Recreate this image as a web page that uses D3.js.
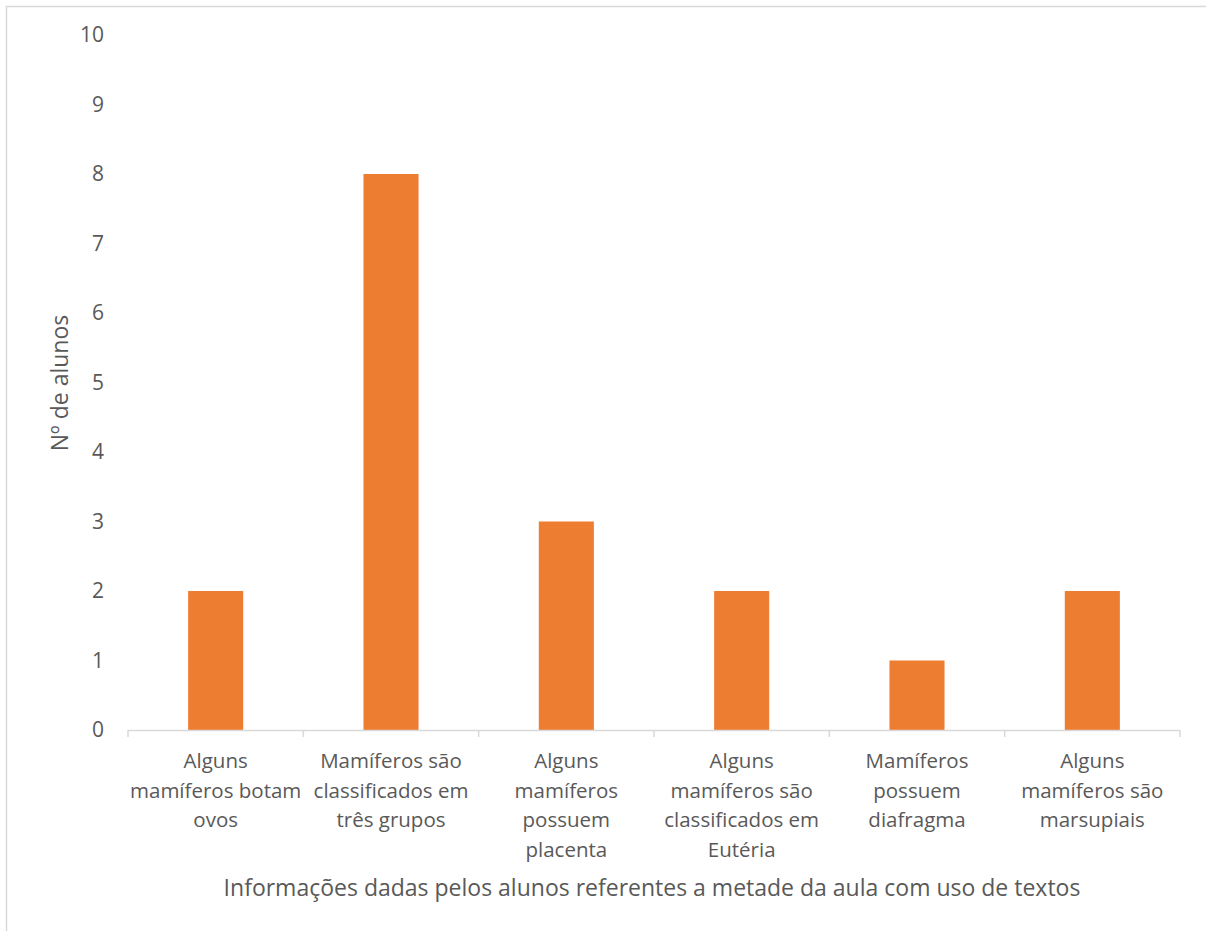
<!DOCTYPE html>
<html>
<head>
<meta charset="utf-8">
<script src="https://cdn.jsdelivr.net/npm/d3@7"></script>
<style>
  html, body { margin: 0; padding: 0; background: #fff; }
  svg { display: block; }
</style>
</head>
<body>
<svg id="chart" width="1206" height="931"></svg>
<script>
const categories = [
  "Alguns mamíferos botam ovos",
  "Mamíferos são classificados em três grupos",
  "Alguns mamíferos possuem placenta",
  "Alguns mamíferos são classificados em Eutéria",
  "Mamíferos possuem diafragma",
  "Alguns mamíferos são marsupiais"
];
const categoryLines = [
  ["Alguns", "mamíferos botam", "ovos"],
  ["Mamíferos são", "classificados em", "três grupos"],
  ["Alguns", "mamíferos", "possuem", "placenta"],
  ["Alguns", "mamíferos são", "classificados em", "Eutéria"],
  ["Mamíferos", "possuem", "diafragma"],
  ["Alguns", "mamíferos são", "marsupiais"]
];
const values = [2, 8, 3, 2, 1, 2];
const yTicks = [0, 1, 2, 3, 4, 5, 6, 7, 8, 9, 10];
const xTitle = "Informações dadas pelos alunos referentes a metade da aula com uso de textos";
const yTitle = "Nº de alunos";

const svg = d3.select("#chart");
const font = "'Open Sans', 'Liberation Sans', sans-serif";
const textColor = "#595959";

// outer border
svg.append("rect")
  .attr("x", 6.5).attr("y", 6.5)
  .attr("width", 1300).attr("height", 1000)
  .attr("fill", "none").attr("stroke", "#d9d9d9").attr("stroke-width", 1.5);

const x0 = 128, x1 = 1180, yBase = 730, yTop = 35;
const x = d3.scaleBand().domain(categories).range([x0, x1]).paddingInner(0.686).paddingOuter(0.343);
const y = d3.scaleLinear().domain([0, 10]).range([yBase, yTop]);

// bars
svg.append("g").selectAll("rect").data(values).join("rect")
  .attr("x", (d, i) => x(categories[i]))
  .attr("y", d => y(d))
  .attr("width", x.bandwidth())
  .attr("height", d => y(0) - y(d))
  .attr("fill", "#ED7D31");

// y axis labels
const yAxis = d3.axisLeft(y).tickValues(yTicks).tickSize(0).tickPadding(0);
const yg = svg.append("g").attr("transform", "translate(104,0)").call(yAxis);
yg.select(".domain").remove();
yg.selectAll("text")
  .attr("font-family", font).attr("font-size", 21).attr("fill", textColor);

// x axis line and ticks at band boundaries
const boundaries = d3.range(categories.length + 1).map(i => x0 + i * (x1 - x0) / categories.length);
const xg = svg.append("g");
xg.append("line")
  .attr("x1", x0).attr("x2", x1).attr("y1", yBase + 0.5).attr("y2", yBase + 0.5)
  .attr("stroke", "#d9d9d9").attr("stroke-width", 1.5);
xg.selectAll("line.tick").data(boundaries).join("line")
  .attr("class", "tick")
  .attr("x1", d => d).attr("x2", d => d)
  .attr("y1", yBase).attr("y2", yBase + 7)
  .attr("stroke", "#d9d9d9").attr("stroke-width", 1.5);

// category labels
const lab = svg.append("g");
categories.forEach((c, i) => {
  const cx = x(c) + x.bandwidth() / 2;
  const t = lab.append("text")
    .attr("text-anchor", "middle")
    .attr("font-family", font).attr("font-size", 20.5).attr("fill", textColor);
  categoryLines[i].forEach((ln, j) => {
    t.append("tspan").attr("x", cx).attr("y", 768 + j * 29.5).text(ln);
  });
});

// axis titles
svg.append("text")
  .attr("x", (x0 + x1) / 2 - 2).attr("y", 896)
  .attr("text-anchor", "middle")
  .attr("font-family", font).attr("font-size", 23).attr("fill", textColor)
  .text(xTitle);

svg.append("text")
  .attr("transform", "translate(68,383) rotate(-90)")
  .attr("text-anchor", "middle")
  .attr("font-family", font).attr("font-size", 23).attr("fill", textColor)
  .text(yTitle);
</script>
</body>
</html>
